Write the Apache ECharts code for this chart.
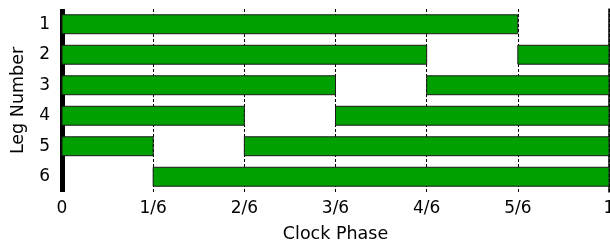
<!DOCTYPE html>
<html>
<head>
<meta charset="utf-8">
<script src="https://cdn.jsdelivr.net/npm/echarts@6/dist/echarts.min.js"></script>
<style>
  html, body { margin: 0; padding: 0; background: #fff; }
  #chart { width: 610px; height: 242px; }
</style>
</head>
<body>
<div id="chart"></div>
<script>
// legs, top to bottom
var legs = ['1', '2', '3', '4', '5', '6'];
// phase tick labels (axis runs in sixths of a clock cycle)
var phaseLabels = ['0', '1/6', '2/6', '3/6', '4/6', '5/6', '1'];
// active intervals per leg, [start, end] in sixths
var leg1 = [[0, 5]];
var leg2 = [[0, 4], [5, 6]];
var leg3 = [[0, 3], [4, 6]];
var leg4 = [[0, 2], [3, 6]];
var leg5 = [[0, 1], [2, 6]];
var leg6 = [[1, 6]];

var segments = [];
[leg1, leg2, leg3, leg4, leg5, leg6].forEach(function (list, i) {
    list.forEach(function (s) {
        segments.push([s[0], s[1], i]);
    });
});

var myChart = echarts.init(document.getElementById('chart'));
var font = 'DejaVu Sans';
var option = {
    animation: false,
    grid: {left: 62, right: 1, top: 9, bottom: 50, outerBoundsMode: 'none', containLabel: false},
    xAxis: {
        type: 'value',
        min: 0,
        max: 6,
        interval: 1,
        name: 'Clock Phase',
        nameLocation: 'middle',
        nameGap: 33,
        nameTextStyle: {fontFamily: font, fontSize: 17.5, color: '#000'},
        axisLine: {show: false},
        axisTick: {show: false},
        axisLabel: {
            fontFamily: font, fontSize: 17, color: '#000', margin: 8,
            formatter: function (v) { return phaseLabels[v]; }
        },
        splitLine: {
            show: true,
            lineStyle: {color: '#000', width: 1, type: [3, 2]}
        }
    },
    yAxis: [
        {
            type: 'category',
            data: legs,
            inverse: true,
            name: 'Leg Number',
            nameLocation: 'middle',
            nameGap: 35,
            nameTextStyle: {fontFamily: font, fontSize: 17.5, color: '#000'},
            axisLine: {show: true, lineStyle: {color: '#000', width: 5, cap: 'butt'}},
            axisTick: {show: false},
            axisLabel: {fontFamily: font, fontSize: 17, color: '#000', margin: 12}
        },
        {
            type: 'category',
            data: legs,
            inverse: true,
            position: 'right',
            axisLine: {show: true, lineStyle: {color: '#000', width: 1.5}},
            axisTick: {show: false},
            axisLabel: {show: false}
        }
    ],
    series: [{
        type: 'custom',
        data: segments,
        encode: {x: [0, 1], y: 2},
        z: 1,
        renderItem: function (params, api) {
            var p0 = api.coord([api.value(0), api.value(2)]);
            var p1 = api.coord([api.value(1), api.value(2)]);
            var h = api.size([0, 1])[1] * 0.62;
            return {
                type: 'rect',
                shape: {x: p0[0], y: p0[1] - h / 2, width: p1[0] - p0[0], height: h},
                style: {fill: '#00a000', stroke: '#1a1a1a', lineWidth: 1}
            };
        }
    }]
};
myChart.setOption(option);
</script>
</body>
</html>
